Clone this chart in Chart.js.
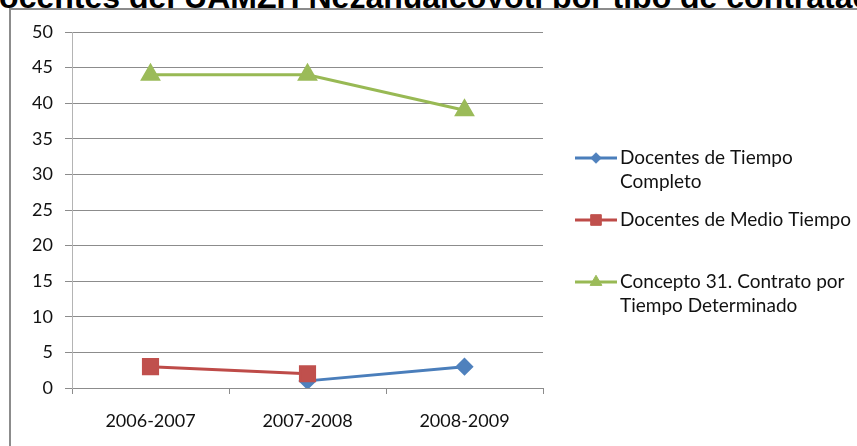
<!DOCTYPE html>
<html>
<head>
<meta charset="utf-8">
<script src="https://cdn.jsdelivr.net/npm/chart.js@4/dist/chart.umd.min.js"></script>
<style>
    html, body { margin: 0; padding: 0; background: #fff; overflow: hidden; }
    #wrap { position: relative; width: 857px; height: 446px; overflow: hidden; }
    #title {
        position: absolute; top: -19px; left: -24px; white-space: nowrap;
        font: bold 32px 'Liberation Sans', Arial, sans-serif; line-height: 32px; color: #000;
    }
    #graph { position: absolute; left: 0; top: 0; }
</style>
</head>
<body>
<div id="wrap">
    <div id="title">Docentes del UAMZH Nezahualcoyotl por tipo de contratación</div>
    <canvas id="graph" width="857" height="446"></canvas>
</div>
<script>
'use strict';

// data
var categories = ['2006-2007', '2007-2008', '2008-2009'];
var tiempoCompleto = [null, 1, 3];
var medioTiempo = [3, 2, null];
var contratoDeterminado = [44, 44, 39];
var seriesNames = [
    ['Docentes de Tiempo', 'Completo'],
    ['Docentes de Medio Tiempo'],
    ['Concepto 31. Contrato por', 'Tiempo Determinado']
];
var yTicks = [0, 5, 10, 15, 20, 25, 30, 35, 40, 45, 50];

var FONT = 'Lato, "Open Sans", sans-serif';

// white chart box with grey border, left and top edges visible
var boxPlugin = {
    id: 'box',
    beforeDraw: function (chart) {
        var ctx = chart.ctx;
        ctx.save();
        ctx.fillStyle = '#fff';
        ctx.fillRect(10, 9, 900, 500);
        ctx.strokeStyle = '#8c8c8c';
        ctx.lineWidth = 2;
        ctx.strokeRect(10, 9, 900, 500);
        ctx.restore();
    }
};

// legend on the right, one entry per dataset, wrapped names
var legendPlugin = {
    id: 'sideLegend',
    afterDraw: function (chart) {
        var ctx = chart.ctx;
        ctx.save();
        ctx.font = '19px ' + FONT;
        ctx.textBaseline = 'middle';
        ctx.textAlign = 'left';
        chart.data.datasets.forEach(function (ds, i) {
            var y = 158 + i * 62;
            ctx.strokeStyle = ds.borderColor;
            ctx.lineWidth = 3;
            ctx.beginPath();
            ctx.moveTo(575, y);
            ctx.lineTo(617, y);
            ctx.stroke();
            ctx.fillStyle = ds.pointBackgroundColor;
            ctx.strokeStyle = ds.pointBackgroundColor;
            ctx.lineWidth = 1;
            Chart.helpers.drawPoint(ctx, {
                pointStyle: ds.pointStyle,
                radius: ds.pointRadius * 0.75,
                borderWidth: 1
            }, 596, y);
            ctx.fillStyle = '#111';
            ds.label.forEach(function (line, k) {
                ctx.fillText(line, 620, y + k * 24);
            });
        });
        ctx.restore();
    }
};

new Chart('graph', {
    type: 'line',
    data: {
        labels: categories,
        datasets: [{
            label: seriesNames[0],
            data: tiempoCompleto,
            borderColor: '#4A7EBB',
            backgroundColor: '#4F81BD',
            pointBackgroundColor: '#4F81BD',
            pointBorderColor: '#4F81BD',
            pointStyle: 'rectRot',
            pointRadius: 7,
            borderWidth: 3,
            order: 3
        }, {
            label: seriesNames[1],
            data: medioTiempo,
            borderColor: '#BE4B48',
            backgroundColor: '#C0504D',
            pointBackgroundColor: '#C0504D',
            pointBorderColor: '#C0504D',
            pointStyle: 'rect',
            pointRadius: 10,
            borderWidth: 3,
            order: 2
        }, {
            label: seriesNames[2],
            data: contratoDeterminado,
            borderColor: '#98B954',
            backgroundColor: '#9BBB59',
            pointBackgroundColor: '#9BBB59',
            pointBorderColor: '#9BBB59',
            pointStyle: 'triangle',
            pointRadius: 9,
            borderWidth: 3,
            order: 1
        }]
    },
    options: {
        responsive: false,
        animation: false,
        devicePixelRatio: 1,
        layout: { padding: { left: 0, top: 32, right: 314, bottom: 0 } },
        plugins: {
            legend: { display: false },
            title: { display: false },
            tooltip: { enabled: false }
        },
        elements: {
            line: { tension: 0 },
            point: { borderWidth: 1, hoverRadius: 0 }
        },
        scales: {
            x: {
                offset: true,
                grid: {
                    offset: true,
                    drawOnChartArea: false,
                    drawTicks: true,
                    tickLength: 6,
                    color: '#8c8c8c'
                },
                border: { color: '#8c8c8c', width: 1 },
                ticks: {
                    color: '#111',
                    font: { family: FONT, size: 18 },
                    padding: 16,
                    maxRotation: 0
                },
                afterFit: function (s) { s.height = 58; }
            },
            y: {
                min: 0,
                max: 50,
                afterBuildTicks: function (s) {
                    s.ticks = yTicks.map(function (v) { return { value: v }; });
                },
                grid: {
                    color: '#8c8c8c',
                    tickLength: 7,
                    drawTicks: true
                },
                border: { color: '#b4b4b4', width: 1 },
                ticks: {
                    color: '#111',
                    font: { family: FONT, size: 18 },
                    padding: 12
                },
                afterFit: function (s) { s.width = 72; }
            }
        }
    },
    plugins: [boxPlugin, legendPlugin]
});
</script>
</body>
</html>
